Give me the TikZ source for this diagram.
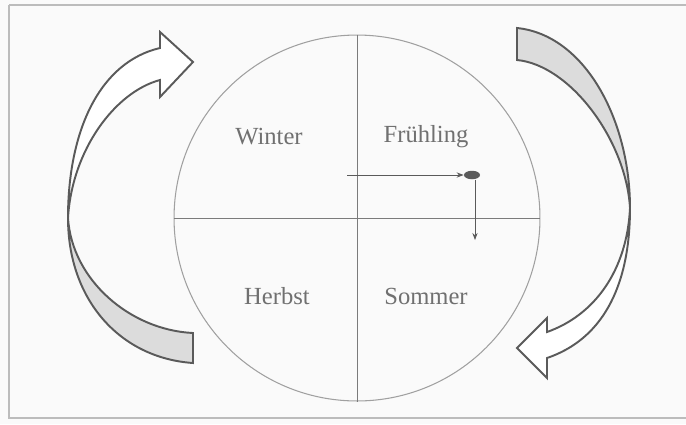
\documentclass[tikz,border=0pt]{standalone}
\usepackage{fontspec}
\setmainfont{Liberation Serif}
\usepackage{tikz}
\usetikzlibrary{arrows.meta,calc,positioning,shapes.geometric}
\definecolor{linie}{HTML}{5A5A5A}
\definecolor{kreislinie}{HTML}{A0A0A0}
\definecolor{schrift}{HTML}{707070}
\definecolor{rueck}{HTML}{DCDCDC}
\definecolor{grund}{HTML}{FAFAFA}

\begin{document}
\begin{tikzpicture}[x=0.02cm, y=-0.02cm,
  jahr/.style={font=\fontsize{14}{16}\selectfont, text=schrift, inner sep=0pt},
  band/.style={draw=linie, line width=1.1pt, line join=miter},
  achse/.style={draw=linie!80, line width=0.5pt}]

\useasboundingbox (0,0) rectangle (686,424);
\fill[grund] (0,0) rectangle (686,424);
\draw[kreislinie!70, line width=0.6pt] (9,5) -- (9,418) -- (690,418);
\draw[kreislinie!70, line width=0.6pt] (9,5) -- (690,5);

% Kreis mit Achsen
\node[circle, draw=kreislinie, line width=0.6pt, minimum size=7.32cm, inner sep=0pt] (kreis) at (357,218) {};
\draw[achse] (kreis.north) -- (kreis.south);
\draw[achse] (kreis.west) -- (kreis.east);

% Jahreszeiten
\node[jahr] (winter)   at (269,137) {Winter};
\node[jahr] (fruehling) at (426,137) {Frühling};
\node[jahr] (herbst)   at (277,296) {Herbst};
\node[jahr] (sommer)   at (426,296) {Sommer};

% Kleiner Pfeil
\node[ellipse, fill=linie, inner sep=0pt, minimum width=0.32cm, minimum height=0.17cm] (punkt) at (472,175) {};
\coordinate (start) at (347,175);
\coordinate (ende) at (475,240);
\draw[linie, line width=0.5pt, -{Stealth[length=4pt,width=3pt]}] (start) -- (punkt.west);
\draw[linie, line width=0.5pt, -{Stealth[length=4pt,width=3pt]}] (punkt.south -| ende) -- (ende);

% Linker Pfeil
\draw[band, fill=rueck] (68,218) .. controls (68,300) and (120,358) .. (193,363)
  -- (193,333) .. controls (130,330) and (72,280) .. (68,218) -- cycle;
\draw[band, fill=white] (68,218) .. controls (68,130) and (100,62) .. (160,48)
  -- (160,32) -- (193,62) -- (160,97) -- (160,80)
  .. controls (115,92) and (72,150) .. (68,218) -- cycle;

% Rechter Pfeil
\draw[band, fill=rueck] (517,28) .. controls (585,35) and (630,120) .. (630,208)
  .. controls (626,140) and (570,65) .. (517,60) -- cycle;
\draw[band, fill=white] (630,208) .. controls (630,290) and (600,340) .. (547,358)
  -- (547,378) -- (517,348) -- (547,318) -- (547,332)
  .. controls (595,315) and (627,270) .. (630,208) -- cycle;

\end{tikzpicture}
\end{document}
